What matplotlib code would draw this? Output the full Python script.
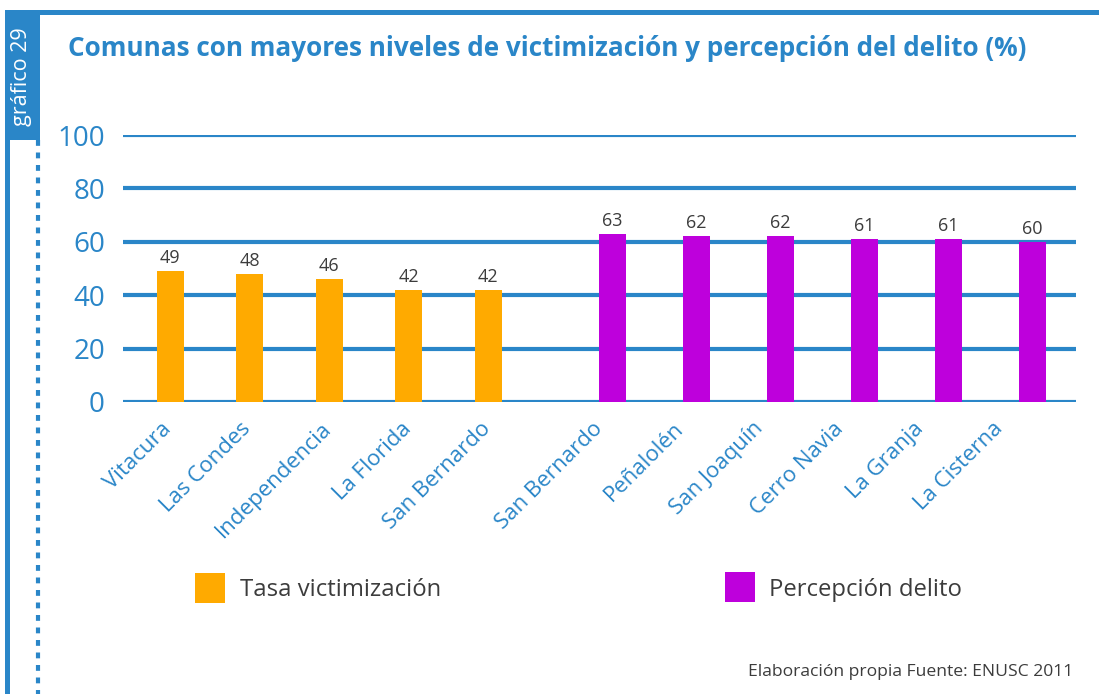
import matplotlib
matplotlib.use('Agg')
import matplotlib.pyplot as plt
from matplotlib.patches import Rectangle
from matplotlib.lines import Line2D
import numpy as np

# datos
comunas_victim = ['Vitacura', 'Las Condes', 'Independencia', 'La Florida', 'San Bernardo']
tasa_victim = [49, 48, 46, 42, 42]
comunas_percep = ['San Bernardo', 'Peñalolén', 'San Joaquín', 'Cerro Navia', 'La Granja', 'La Cisterna']
percep_delito = [63, 62, 62, 61, 61, 60]
y_ticks = [0, 20, 40, 60, 80, 100]

BLUE = '#2a86c8'
ORANGE = '#ffaa00'
PURPLE = '#be00dc'
GREY = '#3c3c3c'
plt.rcParams['font.family'] = ['Open Sans', 'DejaVu Sans']

W, H = 1099, 694
fig = plt.figure(figsize=(W / 100, H / 100), dpi=100)


def fx(px):
    return px / W


def fy(py):
    return 1 - py / H


# marco
fig.add_artist(Rectangle((fx(5), fy(694)), fx(5), fy(10) - fy(694), color=BLUE, lw=0))
fig.add_artist(Rectangle((fx(5), fy(15)), 1 - fx(5), fy(10) - fy(15), color=BLUE, lw=0))
fig.add_artist(Rectangle((fx(5), fy(140)), fx(35), fy(10) - fy(140), color=BLUE, lw=0))
fig.add_artist(Line2D([fx(38), fx(38)], [fy(140), fy(694)], color=BLUE, lw=3,
                      dashes=(1.4, 1.6)))
fig.text(fx(22), fy(77), 'gráfico 29', rotation=90, color='white', fontsize=15.5,
         ha='center', va='center')
fig.text(fx(68), fy(49), 'Comunas con mayores niveles de victimización y percepción del delito (%)',
         color=BLUE, fontsize=18.8, fontweight='bold', ha='left', va='center')

# ejes en coordenadas de pixel en x
left, right, top, bottom = 123, 1076, 135, 402
ax = fig.add_axes([fx(left), fy(bottom), fx(right - left), fy(top) - fy(bottom)])
ax.set_xlim(left, right)
ax.set_ylim(0, 100)
for s in ax.spines.values():
    s.set_visible(False)
for t in y_ticks:
    ax.axhline(t, color=BLUE, lw=3, zorder=1)
ax.set_yticks(y_ticks)
ax.tick_params(axis='y', length=0, pad=13, labelsize=20, labelcolor=BLUE)

x_v = 170 + 79.5 * np.arange(len(tasa_victim))
x_p = 612 + 84 * np.arange(len(percep_delito))
ax.bar(x_v, tasa_victim, width=27, color=ORANGE, zorder=2)
ax.bar(x_p, percep_delito, width=27, color=PURPLE, zorder=2)
for xs, vals in ((x_v, tasa_victim), (x_p, percep_delito)):
    for xi, v in zip(xs, vals):
        ax.text(xi, v + 1.5, str(v), ha='center', va='bottom', fontsize=13, color=GREY)

# etiquetas
tick_pos = list(168 + 80 * np.arange(len(comunas_victim))) + list(600 + 80 * np.arange(len(comunas_percep)))
ax.set_xticks(tick_pos)
ax.set_xticklabels(comunas_victim + comunas_percep, rotation=45, ha='right', va='center',
                   rotation_mode='anchor', fontsize=16, color=BLUE)
ax.tick_params(axis='x', length=0, pad=17)

# leyenda
fig.add_artist(Rectangle((fx(195), fy(603)), fx(30), fy(573) - fy(603), color=ORANGE, lw=0))
fig.text(fx(240), fy(590), 'Tasa victimización', fontsize=17.2, color=GREY, ha='left', va='center')
fig.add_artist(Rectangle((fx(725), fy(602)), fx(30), fy(572) - fy(602), color=PURPLE, lw=0))
fig.text(fx(769), fy(590), 'Percepción delito', fontsize=17.2, color=GREY, ha='left', va='center')

fig.text(fx(1073), fy(672), 'Elaboración propia Fuente: ENUSC 2011', fontsize=12.6, color=GREY,
         ha='right', va='center')

fig.savefig('out.png', dpi=100)
